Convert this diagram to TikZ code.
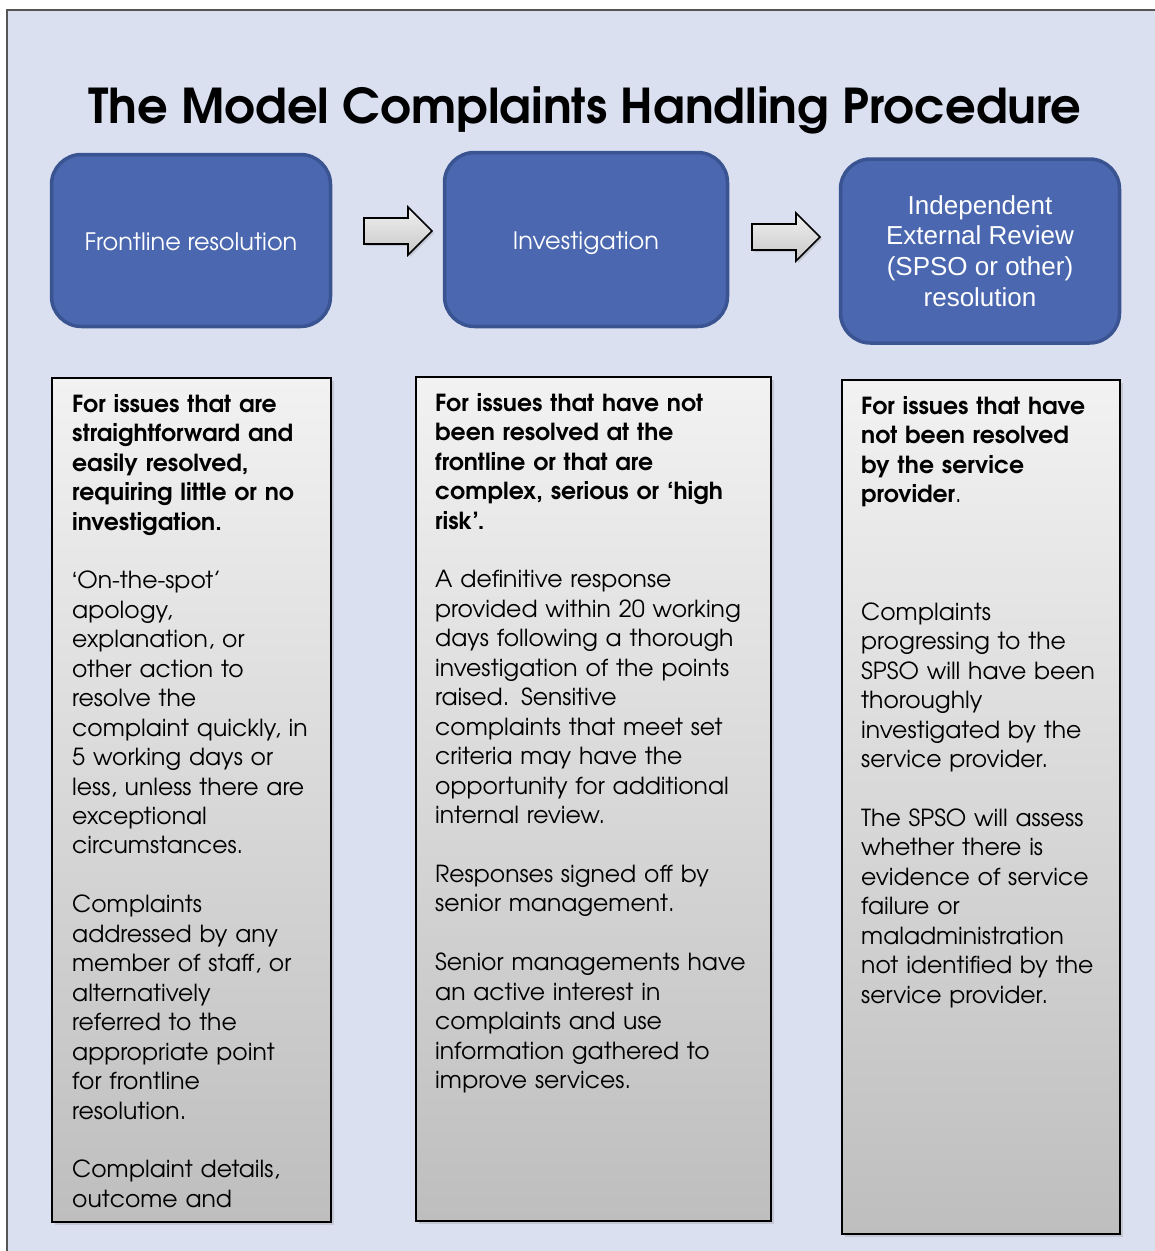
\documentclass[tikz,border=0pt]{standalone}
\usepackage{fontspec}
\setmainfont{texgyreadventor}[Extension=.otf, UprightFont=*-regular, BoldFont=*-bold]
\newfontfamily\arialfont{Liberation Sans}
\usetikzlibrary{shadows}
\definecolor{frameBg}{RGB}{218,224,240}
\definecolor{frameLine}{RGB}{85,85,85}
\definecolor{blueFill}{RGB}{74,103,175}
\definecolor{blueLine}{RGB}{58,84,146}
\definecolor{greyTop}{RGB}{242,242,242}
\definecolor{greyBot}{RGB}{190,190,190}
\definecolor{arrTop}{RGB}{240,240,240}
\definecolor{arrBot}{RGB}{200,200,200}
\tikzset{
  bluebox/.style={draw=blueLine, line width=3.5pt, fill=blueFill, rounded corners=30pt,
    text=white, align=center, inner sep=0pt},
  greybox/.style={draw=black, line width=2pt, top color=greyTop, bottom color=greyBot,
    drop shadow={opacity=0.25, shadow xshift=3pt, shadow yshift=-3pt}, inner sep=0pt},
  blockarrow/.style={draw=black, line width=1.6pt, line join=miter, top color=arrTop, bottom color=arrBot,
    drop shadow={opacity=0.25, shadow xshift=2pt, shadow yshift=-2pt}},
  coltext/.style={anchor=north west, inner sep=0pt, align=left,
    font=\fontsize{23.5pt}{29.45pt}\selectfont},
}
\newcommand{\myopenq}{{\arialfont ‘}}
\begin{document}
\begin{tikzpicture}[x=1pt,y=-1pt]
\useasboundingbox (0,0) rectangle (1155,1251);
\clip (0,0) rectangle (1155,1251);
\draw[draw=frameLine, line width=1.5pt, fill=frameBg] (7,10) rectangle (1175,1275);

\node[anchor=base] (title) at (585,123)
  {\fontsize{48pt}{58pt}\selectfont\bfseries The Model Complaints Handling Procedure};

\node[bluebox, minimum width=279pt, minimum height=172pt, text height=24pt, text depth=5pt,
  font=\fontsize{24pt}{30pt}\selectfont] (front) at (191,240.5)
  {Frontline resolution};
\node[bluebox, minimum width=283pt, minimum height=174pt, text height=24pt, text depth=5pt,
  font=\fontsize{24pt}{30pt}\selectfont] (invest) at (586,239.5)
  {Investigation};
\node[bluebox, minimum width=279pt, minimum height=184pt, font=\arialfont\fontsize{26pt}{30.7pt}\selectfont] (review) at (980,251)
  {Independent\\External Review\\(SPSO or other)\\resolution};

\draw[blockarrow] (364,218) -- (408,218) -- (408,207) -- (432,231) -- (408,255) -- (408,244) -- (364,244) -- cycle;
\draw[blockarrow] (752,224) -- (796,224) -- (796,213) -- (820,237) -- (796,261) -- (796,250) -- (752,250) -- cycle;

\node[greybox, minimum width=279pt, minimum height=844pt] (colA) at (191,799.5) {};
\node[greybox, minimum width=355pt, minimum height=844pt] (colB) at (593,798.5) {};
\node[greybox, minimum width=278pt, minimum height=854pt] (colC) at (980.5,806.5) {};

\node[coltext, text width=270pt] (textA) at (72,390) {\rule{0pt}{22pt}{\bfseries For issues that are\\
straightforward and\\
easily resolved,\\
requiring little or no\\
investigation.}\\[29.45pt]
\myopenq On-the-spot’\\
apology,\\
explanation, or\\
other action to\\
resolve the\\
complaint quickly, in\\
5 working days or\\
less, unless there are\\
exceptional\\
circumstances.\\[29.45pt]
Complaints\\
addressed by any\\
member of staff, or\\
alternatively\\
referred to the\\
appropriate point\\
for frontline\\
resolution.\\[29.45pt]
Complaint details,\\
outcome and};

\node[coltext, text width=340pt] (textB) at (435,389) {\rule{0pt}{22pt}{\bfseries For issues that have not\\
been resolved at the\\
frontline or that are\\
complex, serious or ‘high\\
risk’.}\\[29.45pt]
A definitive response\\
provided within 20 working\\
days following a thorough\\
investigation of the points\\
raised. Sensitive\\
complaints that meet set\\
criteria may have the\\
opportunity for additional\\
internal review.\\[29.45pt]
Responses signed off by\\
senior management.\\[29.45pt]
Senior managements have\\
an active interest in\\
complaints and use\\
information gathered to\\
improve services.};

\node[coltext, text width=270pt] (textC) at (861,392) {\rule{0pt}{22pt}{\bfseries For issues that have\\
not been resolved\\
by the service\\
provider}.\\[88.35pt]
Complaints\\
progressing to the\\
SPSO will have been\\
thoroughly\\
investigated by the\\
service provider.\\[29.45pt]
The SPSO will assess\\
whether there is\\
evidence of service\\
failure or\\
maladministration\\
not identified by the\\
service provider.};
\end{tikzpicture}
\end{document}
